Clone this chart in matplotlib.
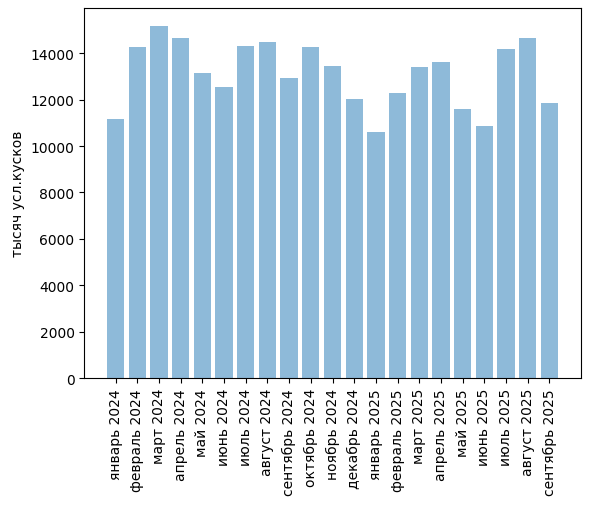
import matplotlib
matplotlib.use("Agg")
import matplotlib.pyplot as plt

months = ["январь 2024", "февраль 2024", "март 2024", "апрель 2024", "май 2024",
          "июнь 2024", "июль 2024", "август 2024", "сентябрь 2024", "октябрь 2024",
          "ноябрь 2024", "декабрь 2024", "январь 2025", "февраль 2025", "март 2025",
          "апрель 2025", "май 2025", "июнь 2025", "июль 2025", "август 2025",
          "сентябрь 2025"]
values = [11170, 14270, 15170, 14650, 13150, 12550, 14310, 14480, 12940, 14270,
          13450, 12030, 10610, 12290, 13410, 13620, 11600, 10870, 14180, 14650,
          11860]

W, H = 589, 506
fig = plt.figure(figsize=(W / 100, H / 100), dpi=100)
left, right, top, bottom = 84.3, 580.7, 9.3, 379.3
ax = fig.add_axes([left / W, 1 - bottom / H, (right - left) / W, (bottom - top) / H])
ax.bar(months, values, color="C0", alpha=0.5)
ax.set_ylabel("тысяч усл.кусков")
ax.tick_params(axis="x", rotation=90)
fig.savefig("out.png", dpi=100)
